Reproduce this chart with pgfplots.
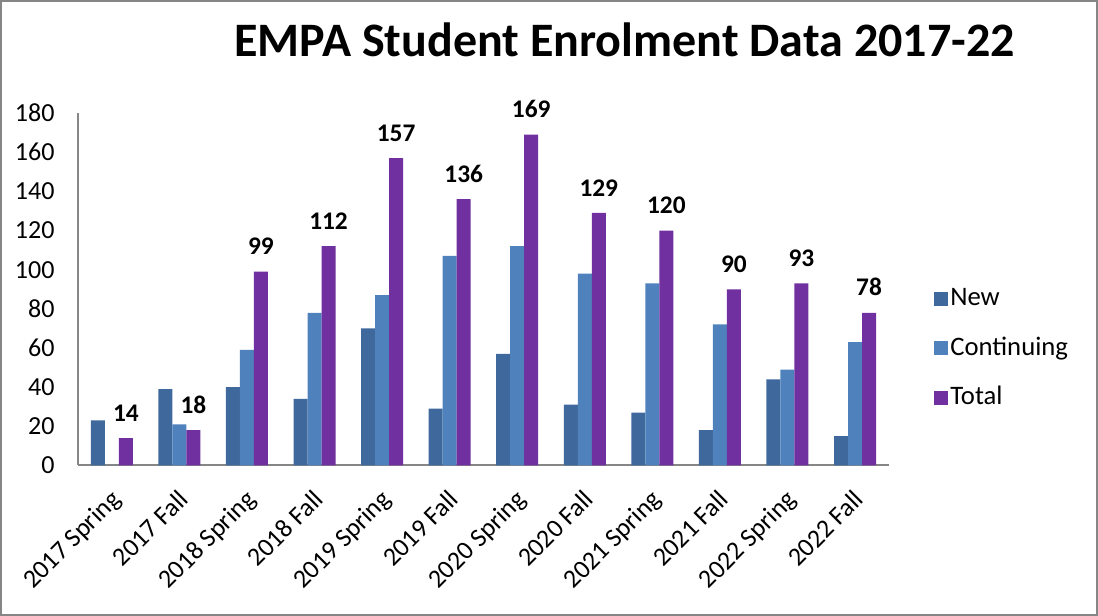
\documentclass[border=0pt]{standalone}
\usepackage{pgfplots}
\pgfplotsset{compat=1.18}
\usepackage{fontspec}
\setmainfont{Carlito}

\definecolor{cnew}{HTML}{3F689C}
\definecolor{ccont}{HTML}{4F81BD}
\definecolor{ctot}{HTML}{7030A0}
\definecolor{axgray}{HTML}{868686}

\begin{document}
\begin{tikzpicture}
% page frame, 1098x615 px at 0.75pt/px
\draw[axgray, line width=1.5pt] (0.75pt,0.75pt) rectangle (822pt,460.5pt);
\node[anchor=base, font=\fontsize{36}{40}\selectfont\bfseries] at (468pt,419pt) {EMPA Student Enrolment Data 2017-22};

\begin{axis}[
    at={(58.5pt,112.5pt)}, anchor=south west,
    scale only axis,
    width=607.5pt, height=264pt,
    ybar=0pt,
    bar width=10.5pt,
    xmin=-0.5, xmax=11.5,
    ymin=0, ymax=180,
    ytick={0,20,...,180},
    xtick={0,...,11},
    xticklabels={2017 Spring,2017 Fall,2018 Spring,2018 Fall,2019 Spring,2019 Fall,2020 Spring,2020 Fall,2021 Spring,2021 Fall,2022 Spring,2022 Fall},
    axis lines*=left,
    axis line style={axgray, line width=1.5pt, -},
    major tick length=0pt,
    tick label style={font=\fontsize{19.5}{22}\selectfont},
    /pgf/number format/assume math mode=true,
    yticklabel style={inner sep=0pt, xshift=-17.5pt},
    xticklabel style={inner sep=0pt, xshift=-2pt, yshift=-17pt, rotate=45, anchor=north east},
    legend style={at={(1.05,0.332)}, anchor=west, draw=none, fill=none,
        font=\fontsize{20}{23}\selectfont,
        nodes={text height=14pt, text depth=4pt},
        row sep=15pt, cells={anchor=west}},
    legend cell align=left,
    legend image code/.code={\fill[#1,draw=none] (0pt,-5.25pt) rectangle (10.5pt,5.25pt);},
]
\addplot[fill=cnew, draw=none] coordinates {
    (0,23) (1,39) (2,40) (3,34) (4,70) (5,29)
    (6,57) (7,31) (8,27) (9,18) (10,44) (11,15)
};
\addplot[fill=ccont, draw=none] coordinates {
    (0,0) (1,21) (2,59) (3,78) (4,87) (5,107)
    (6,112) (7,98) (8,93) (9,72) (10,49) (11,63)
};
\addplot[fill=ctot, draw=none,
    nodes near coords,
    every node near coord/.append style={font=\fontsize{19}{22}\selectfont\bfseries, text=black, yshift=9pt}
] coordinates {
    (0,14) (1,18) (2,99) (3,112) (4,157) (5,136)
    (6,169) (7,129) (8,120) (9,90) (10,93) (11,78)
};
\legend{New,Continuing,Total}
\end{axis}
\end{tikzpicture}
\end{document}
